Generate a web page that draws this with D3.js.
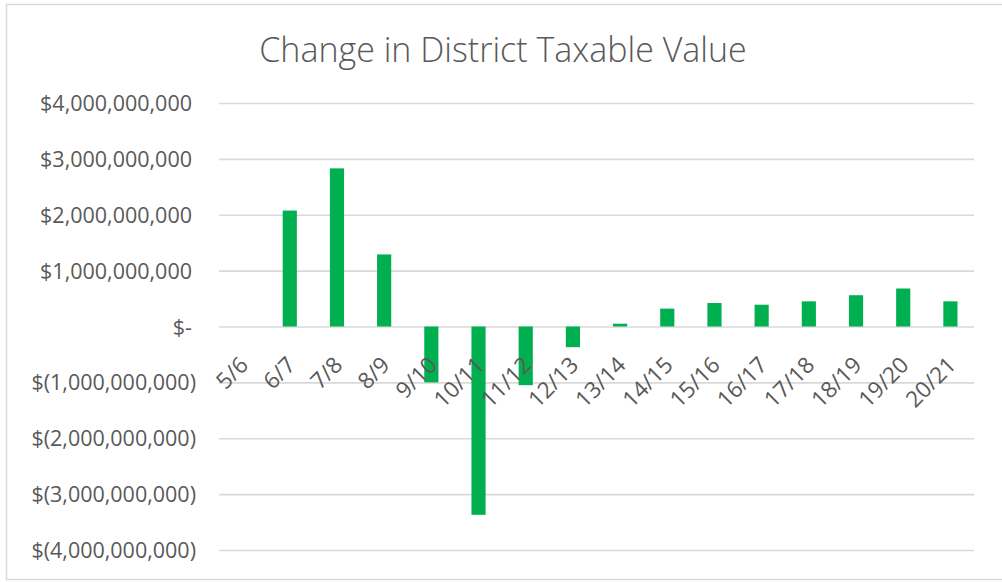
<!DOCTYPE html>
<html>
<head>
<meta charset="utf-8">
<script src="https://cdn.jsdelivr.net/npm/d3@7"></script>
<style>
    body { margin: 0; background: #fff; }
    text { font-family: "Open Sans", sans-serif; fill: #595959; }
    .chart-title { font-size: 34px; font-weight: 300; }
    .tick-label { font-size: 21.5px; }
    .x-label { font-size: 22.5px; }
    .grid-line { stroke: #d9d9d9; stroke-width: 1.6; }
    .bar { fill: #00b050; }
</style>
</head>
<body>
<svg id="chart"></svg>
<script>
// school years and the yearly change in taxable value (dollars)
const years = ['5/6', '6/7', '7/8', '8/9', '9/10', '10/11', '11/12', '12/13',
    '13/14', '14/15', '15/16', '16/17', '17/18', '18/19', '19/20', '20/21'];
const changes = [0, 2075e6, 2830e6, 1290e6, -1000e6, -3370e6, -1050e6, -370e6,
    50e6, 320e6, 420e6, 390e6, 450e6, 560e6, 680e6, 450e6];
const yTicks = [4e9, 3e9, 2e9, 1e9, 0, -1e9, -2e9, -3e9, -4e9];

class BarChart {

    constructor(_config, _data)
    {
        this.config =
        {
            parentElement: _config.parentElement,
            containerWidth: _config.containerWidth || 1002,
            containerHeight: _config.containerHeight || 582,
            margin: _config.margin || { top: 103, right: 28, bottom: 32, left: 219 }
        }

        this.data = _data;
        this.initVis();
    }

    initVis()
    {
        let vis = this;

        vis.width = vis.config.containerWidth - vis.config.margin.left - vis.config.margin.right;
        vis.height = vis.config.containerHeight - vis.config.margin.top - vis.config.margin.bottom;

        vis.svg = d3.select(vis.config.parentElement)
            .attr('width', vis.config.containerWidth)
            .attr('height', vis.config.containerHeight);

        // chart area border, runs off the right edge like the original
        vis.svg.append('rect')
            .attr('x', 6.5)
            .attr('y', 4.5)
            .attr('width', 1010)
            .attr('height', 575)
            .attr('fill', 'none')
            .attr('stroke', '#d9d9d9')
            .attr('stroke-width', 1.5);

        vis.svg.append('text')
            .attr('class', 'chart-title')
            .attr('x', 503)
            .attr('y', 62)
            .attr('text-anchor', 'middle')
            .text('Change in District Taxable Value');

        vis.chart = vis.svg.append('g')
            .attr('transform', `translate(${vis.config.margin.left},${vis.config.margin.top})`);

        vis.xScale = d3.scaleBand()
            .domain(years)
            .range([0, vis.width])
            .paddingInner(0.7)
            .paddingOuter(0.35);

        vis.yScale = d3.scaleLinear()
            .domain([-4e9, 4e9])
            .range([vis.height, 0]);

        vis.renderVis();
    }

    renderVis()
    {
        let vis = this;

        // horizontal gridlines (zero line is drawn the same way)
        vis.chart.append('g')
            .attr('class', 'grid')
            .call(d3.axisLeft(vis.yScale).tickValues(yTicks).tickSize(-vis.width).tickFormat(''))
            .call(g => g.select('.domain').remove())
            .call(g => g.selectAll('line').attr('class', 'grid-line'));

        // y labels in accounting style, parenthesis hangs past the digits
        const money = d3.format(',');
        vis.chart.append('g')
            .call(d3.axisLeft(vis.yScale).tickValues(yTicks).tickSize(0)
                .tickFormat(d => d === 0 ? '$-' : d < 0 ? `$(${money(-d)})` : `$${money(d)}`))
            .call(g => g.select('.domain').remove())
            .call(g => g.selectAll('text')
                .attr('class', 'tick-label')
                .attr('fill', null)
                .attr('x', d => d < 0 ? -23 : -27)
                .attr('dy', '0.35em'));

        vis.chart.selectAll('.bar')
            .data(vis.data)
            .join('rect')
            .attr('class', 'bar')
            .attr('x', d => vis.xScale(d.year))
            .attr('width', vis.xScale.bandwidth())
            .attr('y', d => vis.yScale(Math.max(0, d.value)))
            .attr('height', d => Math.abs(vis.yScale(d.value) - vis.yScale(0)));

        // category labels sit just under the zero line, rotated
        const y0 = vis.yScale(0);
        vis.chart.selectAll('.x-label')
            .data(vis.data)
            .join('text')
            .attr('class', 'tick-label x-label')
            .attr('text-anchor', 'end')
            .attr('transform', d => `translate(${vis.xScale(d.year) + vis.xScale.bandwidth() / 2 + 7},${y0 + 40}) rotate(-45)`)
            .text(d => d.year);
    }
}

const data = years.map((year, i) => ({ year: year, value: changes[i] }));
new BarChart({ parentElement: '#chart' }, data);
</script>
</body>
</html>
